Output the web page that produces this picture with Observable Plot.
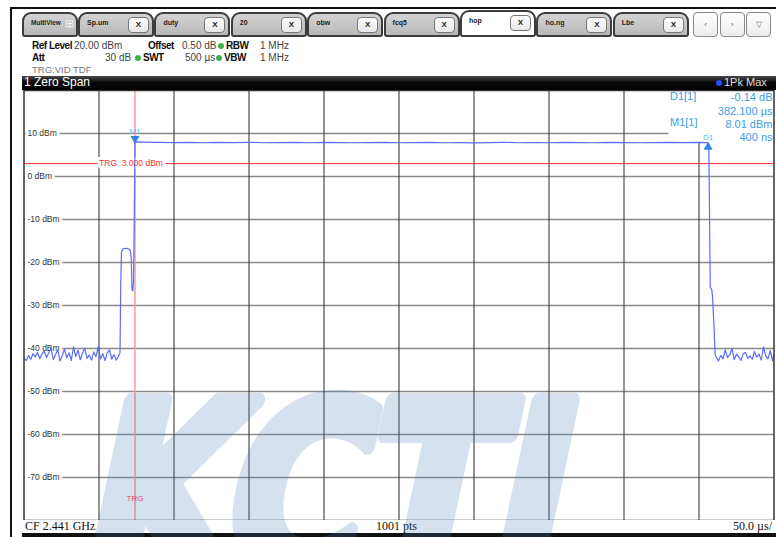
<!DOCTYPE html>
<html><head><meta charset="utf-8">
<script src="https://cdn.jsdelivr.net/npm/d3@7"></script>
<script src="https://cdn.jsdelivr.net/npm/@observablehq/plot@0.6"></script>
<style>
body{margin:0;background:#fff;}
#root{position:relative;width:776px;height:537px;overflow:hidden;background:#fff;font-family:"Liberation Sans",Arial,sans-serif;}
.a{position:absolute;white-space:nowrap;}
.tab{position:absolute;top:12px;height:25px;box-sizing:border-box;background:linear-gradient(#d4d4d4,#b8b8b8);border:2px solid #3c3c3c;border-radius:9px 9px 3px 3px;}
.tab.active{background:#fff;top:10px;height:27px;}
.tab .lbl{position:absolute;left:7px;top:5px;font-size:7px;font-weight:bold;color:#222;}
.tab .x{position:absolute;top:3px;right:3px;width:21px;height:16px;box-sizing:border-box;background:linear-gradient(#fff,#e6e6e6);border:1px solid #777;border-radius:4px;font-size:8px;font-weight:bold;text-align:center;line-height:14px;color:#222;}
.nav{position:absolute;top:12px;height:25px;box-sizing:border-box;border:1px solid #888;border-radius:4px;background:linear-gradient(#fff,#ececec);font-size:8px;text-align:center;line-height:23px;color:#666;}
.lab{font-weight:bold;font-size:10px;letter-spacing:-0.5px;color:#111;}
.val{font-size:10px;color:#444;}
.dot{position:absolute;width:6px;height:6px;border-radius:3px;background:#3fb24a;}
</style></head><body><div id="root"></div>
<script>
// ---------- data ----------
const tabLabels = ["Sp.um","duty","20","obw","fcq5","hop","ho.ng","Lbe"];
const activeTab = "hop";
const navLabels = ["\u2039","\u203A","\u25BD"];
const refLevel = "20.00 dBm", offsetVal = "0.50 dB", rbwVal = "1 MHz";
const attVal = "30 dB", swtVal = "500 µs", vbwVal = "1 MHz";
const trgInfo = "TRG:VID TDF";
const windowTitle = "1 Zero Span";
const traceName = "1Pk Max";
const footerLeft = "CF 2.441 GHz", footerMid = "1001 pts", footerRight = "50.0 µs/";
const watermark = "KCTI";

const yTicks = [10, 0, -10, -20, -30, -40, -50, -60, -70];
const xGrid = [50, 100, 150, 200, 250, 300, 350, 400, 450];
const trigLevel = 3;
const trigTime = 74;
const markerNames = ["M1", "D1"];
const markerTime = [74, 456.1];
const markerLevel = [8.01, 7.87];
const readoutLabels = ["D1[1]", "M1[1]"];
const readoutValues = ["-0.14 dB", "382.100 µs", "8.01 dBm", "400 ns"];

const traceTime = [
0,1.5,3,4.5,6,7.5,9,10.5,12,13.5,15,16.5,18,19.5,21,22.5,24,25.5,27,28.5,30,31.5,33,34.5,36,37.5,39,40.5,42,43.5,45,46.5,48,49.5,51,52.5,54,55.5,57,58.5,60,61.5,63,
64,64.5,65,66,68.5,70,71,71.5,72,72.5,73,73.5,74,
74.5,80,90,100,110,120,130,140,150,160,170,180,190,200,210,220,230,240,250,260,270,280,290,300,310,320,330,340,350,360,370,380,390,400,410,420,430,440,450,455.5,
456.5,457,457.5,458.5,459,460,460.8,
461.5,463,464.5,466,467.5,469,470.5,472,473.5,475,476.5,478,479.5,481,482.5,484,485.5,487,488.5,490,491.5,493,494.5,496,497.5,499,500];
const traceLevel = [
-42.3,-42.8,-41.6,-42.5,-41.2,-42.0,-40.9,-42.4,-41.3,-40.6,-42.1,-41.0,-39.8,-42.6,-41.4,-40.3,-42.9,-41.7,-40.1,-42.2,-41.0,-42.8,-39.6,-41.9,-40.4,-42.6,-41.1,-39.9,-42.3,-41.5,-42.7,-40.8,-41.9,-39.5,-42.4,-41.2,-42.8,-41.0,-40.3,-42.5,-41.4,-42.7,-41.8,
-41.0,-25,-17.5,-16.8,-16.7,-16.9,-17.4,-19,-26.3,-26.6,-24.5,-10,8.0,
8.05,8.0,7.95,7.9,7.95,7.85,7.95,7.9,7.95,7.85,7.9,7.95,7.85,7.95,7.9,7.85,7.9,7.95,7.85,7.9,7.95,7.85,7.9,7.8,7.9,7.95,7.85,7.9,7.85,7.95,7.9,7.85,7.95,7.9,7.85,7.9,7.95,7.9,7.95,7.9,
7.6,-8,-25.8,-26.3,-28,-35,-41.5,
-42.0,-42.9,-41.6,-42.4,-40.3,-42.1,-41.5,-40.0,-42.6,-41.3,-42.0,-42.8,-41.2,-40.9,-42.3,-41.7,-42.5,-40.7,-42.0,-41.3,-42.7,-39.6,-41.8,-42.4,-40.5,-42.9,-41.6];

// ---------- layout helpers ----------
const root = document.getElementById("root");
function el(tag, cls, css, text) {
  const e = document.createElement(tag);
  if (cls) e.className = cls;
  if (css) e.style.cssText = css;
  if (text != null) e.textContent = text;
  root.appendChild(e);
  return e;
}
// outer frame lines
el("div", "a", "left:10px;top:7px;width:766px;height:2px;background:#111;");
el("div", "a", "left:10px;top:7px;width:2px;height:530px;background:#111;");
// MultiView tab
const mv = el("div", "tab", "left:22px;width:56px;");
mv.innerHTML = '<span class="lbl" style="font-size:6.5px">MultiView</span><span style="position:absolute;left:41px;top:3px;font-size:11px;color:#eee">&#8862;</span>';
tabLabels.forEach((t, i) => {
  const d = el("div", "tab" + (t === activeTab ? " active" : ""), `left:${78 + i * 76.4}px;width:76px;`);
  d.innerHTML = `<span class="lbl">${t}</span><span class="x">X</span>`;
});
navLabels.forEach((t, i) => {
  el("div", "nav", `left:${693 + i * 26.5}px;width:25px;`, t);
});
// info rows
const fs = (cls, x, y, t) => el("div", "a " + cls, `left:${x}px;top:${y}px;`, t);
fs("lab", 32, 40, "Ref Level"); fs("val", 74, 40, refLevel);
fs("lab", 148, 40, "Offset"); fs("val", 182, 40, offsetVal);
el("div", "dot", "left:218px;top:43px;"); fs("lab", 226, 40, "RBW"); fs("val", 260, 40, rbwVal);
fs("lab", 32, 52, "Att"); fs("val", 105, 52, attVal);
el("div", "dot", "left:135px;top:55px;"); fs("lab", 143, 52, "SWT"); fs("val", 185, 52, swtVal);
el("div", "dot", "left:216px;top:55px;"); fs("lab", 224, 52, "VBW"); fs("val", 260, 52, vbwVal);
el("div", "a", "left:32px;top:64px;font-size:9.5px;color:#777;", trgInfo);
// window title bar
el("div", "a", "left:22px;top:76px;width:754px;height:14px;background:linear-gradient(#4a4a4a,#0a0a0a 45%,#000);");
el("div", "a", "left:24px;top:75px;font-size:12px;color:#fff;", windowTitle);
el("div", "a", "left:716px;top:80px;width:6px;height:6px;border-radius:3px;background:#2a4cff;");
el("div", "a", "left:724px;top:76px;font-size:11px;color:#ddd;", traceName);

// ---------- chart ----------
const trace = traceTime.map((t, i) => ({t, v: traceLevel[i]}));
const markers = markerNames.map((n, i) => ({name: n, t: markerTime[i], v: markerLevel[i]}));
const m1 = markers.filter(d => d.name === "M1");
const d1 = markers.filter(d => d.name === "D1");
const blue = "#3d9be6";

function readoutBox(index, scales, values, dims) {
  const r = document.createElementNS("http://www.w3.org/2000/svg", "rect");
  r.setAttribute("x", dims.width - dims.marginRight - 105);
  r.setAttribute("y", dims.marginTop);
  r.setAttribute("width", 105);
  r.setAttribute("height", 53);
  r.setAttribute("fill", "white");
  return r;
}

const chart = Plot.plot({
  width: 776, height: 430,
  marginLeft: 23.5, marginRight: 2.5, marginTop: 0, marginBottom: 0,
  x: {domain: [0, 500], axis: null},
  y: {domain: [-80, 20], axis: null},
  style: {background: "transparent", fontFamily: "Liberation Sans, Arial, sans-serif"},
  marks: [
    Plot.ruleY(yTicks, {stroke: "#8a8a8a", strokeWidth: 1.6}),
    Plot.ruleX(xGrid, {stroke: "#2a2a2a", strokeWidth: 1}),
    Plot.ruleY([trigLevel], {stroke: "#ff2a2a", strokeWidth: 1}),
    Plot.ruleX([trigTime], {stroke: "#ff9a9a", strokeWidth: 1.5}),
    Plot.text(yTicks, {x: 0, y: d => d, text: d => `${d} dBm`, textAnchor: "start", dx: 3.5, fontSize: 8.5, fill: "#333", stroke: "white", strokeWidth: 6}),
    readoutBox,
    Plot.text([{t: trigTime, v: trigLevel}], {x: "t", y: "v", text: d => `TRG\u00a0\u00a0${d.v.toFixed(3)} dBm`, dx: -4, fontSize: 8.5, fill: "#ff3030", stroke: "white", strokeWidth: 6}),
    Plot.text([{t: trigTime}], {x: "t", frameAnchor: "bottom", text: () => "TRG", dy: -20, fontSize: 8, fill: "#ff4a4a"}),
    Plot.line(trace, {x: "t", y: "v", stroke: "#5b6cff", strokeWidth: 1.2}),
    Plot.dot(m1, {x: "t", y: "v", symbol: "triangle", r: 3.4, fill: "#2f86e0", rotate: 180, dy: -3.5}),
    Plot.dot(d1, {x: "t", y: "v", symbol: "triangle", r: 3.4, fill: "#2f86e0", dy: 4.5}),
    Plot.text(m1, {x: "t", y: "v", text: "name", dy: -11, fontSize: 8, fill: "#6ab2ea"}),
    Plot.text(d1, {x: "t", y: "v", text: "name", dy: -5.5, fontSize: 8, fill: "#6ab2ea"}),
    Plot.text([readoutValues.join("\n")], {frameAnchor: "top-right", textAnchor: "end", lineAnchor: "top", lineHeight: 1.2, dx: -1.5, dy: 1.5, fontSize: 11, fill: blue}),
    Plot.text([readoutLabels[0]], {frameAnchor: "top-right", textAnchor: "start", lineAnchor: "top", dx: -104, dy: 1.5, fontSize: 11, fill: blue}),
    Plot.text([readoutLabels[1]], {frameAnchor: "top-right", textAnchor: "start", lineAnchor: "top", dx: -104, dy: 27.9, fontSize: 11, fill: blue}),
    Plot.frame({stroke: "#333", strokeWidth: 1.5})
  ]
});
chart.style.position = "absolute";
chart.style.left = "0px";
chart.style.top = "90px";
root.appendChild(chart);

// footer
el("div", "a", "left:22px;top:533px;width:754px;height:4px;background:#111;");
el("div", "a", "left:25px;top:519px;font-family:'Liberation Serif',serif;font-size:12px;color:#111;", footerLeft);
el("div", "a", "left:376px;top:519px;font-family:'Liberation Serif',serif;font-size:12px;color:#111;", footerMid);
el("div", "a", "right:4px;top:519px;font-family:'Liberation Serif',serif;font-size:12px;color:#111;", footerRight);

// watermark
const ns = "http://www.w3.org/2000/svg";
const wm = document.createElementNS(ns, "svg");
wm.setAttribute("width", 776); wm.setAttribute("height", 537);
wm.style.cssText = "position:absolute;left:0;top:0;pointer-events:none;";
const wg = document.createElementNS(ns, "g");
wg.setAttribute("opacity", 0.22);
const wt = document.createElementNS(ns, "text");
wt.setAttribute("x", 198); wt.setAttribute("y", 576);
wt.setAttribute("font-family", "DejaVu Sans"); wt.setAttribute("font-weight", "bold");
wt.setAttribute("font-size", 240);
wt.setAttribute("textLength", 478); wt.setAttribute("lengthAdjust", "spacingAndGlyphs");
wt.setAttribute("fill", "#4a7cc0");
wt.setAttribute("stroke", "#4a7cc0"); wt.setAttribute("stroke-width", 16); wt.setAttribute("stroke-linejoin", "round");
wt.setAttribute("transform", "skewX(-12)");
wt.textContent = watermark;
wg.appendChild(wt);
wm.appendChild(wg);
root.appendChild(wm);
</script></body></html>
